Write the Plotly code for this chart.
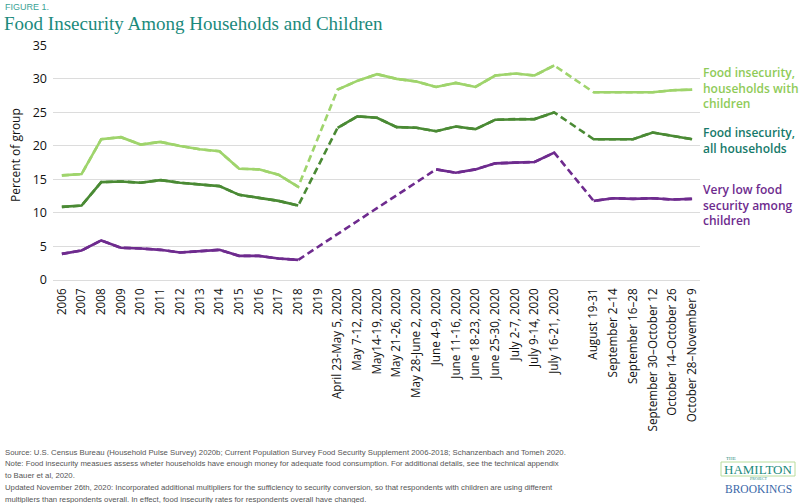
import plotly.graph_objects as go

# ---------------- data ----------------
categories = [
    "2006", "2007", "2008", "2009", "2010", "2011", "2012", "2013", "2014",
    "2015", "2016", "2017", "2018", "2019",
    "April 23-May 5, 2020", "May 7-12, 2020", "May14-19, 2020", "May 21-26, 2020",
    "May 28-June 2, 2020", "June 4-9, 2020", "June 11-16, 2020", "June 18-23, 2020",
    "June 25-30, 2020", "July 2-7, 2020", "July 9-14, 2020", "July 16-21, 2020",
    "",
    "August 19-31", "September 2\u201314", "September 16\u201328",
    "September 30\u2013October 12", "October 14\u2013October 26", "October 28\u2013November 9",
]

hh_children = [15.6, 15.8, 21.0, 21.3, 20.2, 20.6, 20.0, 19.5, 19.2, 16.6, 16.5, 15.7, 13.9, None,
               28.4, 29.7, 30.7, 30.0, 29.6, 28.8, 29.4, 28.8, 30.5, 30.8, 30.5, 32.0,
               None,
               28.0, 28.0, 28.0, 28.0, 28.3, 28.4]

all_hh = [10.9, 11.1, 14.6, 14.7, 14.5, 14.9, 14.5, 14.3, 14.0, 12.7, 12.3, 11.8, 11.1, None,
          22.7, 24.4, 24.2, 22.8, 22.7, 22.2, 22.9, 22.5, 23.9, 24.0, 24.0, 25.0,
          None,
          21.0, 21.0, 21.0, 22.0, 21.5, 21.0]

very_low_children = [3.9, 4.4, 5.9, 4.8, 4.7, 4.5, 4.1, 4.3, 4.5, 3.6, 3.6, 3.2, 3.0, None,
                     None, None, None, None, None, 16.5, 16.0, 16.5, 17.4, 17.5, 17.6, 19.0,
                     None,
                     11.8, 12.2, 12.1, 12.2, 12.0, 12.1]

series = [
    ("Food insecurity,<br>households with<br>children", hh_children, "#9fd46c", "#8fcb58"),
    ("Food insecurity,<br>all households", all_hh, "#4a8a34", "#167a6a"),
    ("Very low food<br>security among<br>children", very_low_children, "#6e2b8e", "#6e2b8e"),
]

# ---------------- layout geometry ----------------
W, H = 800, 503
L, R, T, B = 53, 100, 45, 223
PW, PH = W - L - R, H - T - B


def px(xp):
    return (xp - L) / PW


def py(yp):
    return (H - B - yp) / PH


xs = list(range(len(categories)))

fig = go.Figure()
for name, vals, col, _ in series:
    # dashed connector underneath (bridges the gaps)
    fig.add_trace(go.Scatter(x=xs, y=vals, mode="lines", connectgaps=True,
                             line=dict(color=col, width=2.6, dash="7px,4px"),
                             hoverinfo="skip", showlegend=False))
    # solid segments on top
    fig.add_trace(go.Scatter(x=xs, y=vals, mode="lines", connectgaps=False,
                             line=dict(color=col, width=2.6),
                             name=name.replace("<br>", " "), showlegend=False))

tick_vals = [i for i, c in enumerate(categories) if c]
tick_text = [c for c in categories if c]

fig.update_layout(
    width=W, height=H,
    margin=dict(l=L, r=R, t=T, b=B, pad=0),
    paper_bgcolor="white", plot_bgcolor="white",
    font=dict(family="Open Sans, Noto Sans, sans-serif", color="#222"),
    xaxis=dict(range=[-0.45, 32.4], tickmode="array", tickvals=tick_vals, ticktext=tick_text,
               tickangle=-90, showgrid=False, zeroline=False, showline=False, ticks="",
               ticklabelstandoff=5, tickfont=dict(size=11.7, color="#111")),
    yaxis=dict(range=[0, 35.05], dtick=5, showgrid=True, gridcolor="#dcdcdc", gridwidth=1,
               zeroline=True, zerolinecolor="#dcdcdc", zerolinewidth=1, showline=False,
               ticks="", ticklabelstandoff=5, tickfont=dict(size=12.5, color="#111")),
)

ann = []
# titles
ann.append(dict(text="FIGURE 1.", x=px(3), y=py(7), xref="paper", yref="paper",
                xanchor="left", yanchor="middle", showarrow=False,
                font=dict(family="Liberation Sans, Arial, sans-serif", size=9, color="#3aa396")))
ann.append(dict(text="Food Insecurity Among Households and Children", x=px(2), y=py(23),
                xref="paper", yref="paper", xanchor="left", yanchor="middle", showarrow=False,
                font=dict(family="Liberation Serif, DejaVu Serif, serif", size=19, color="#1b8a7c")))
# y axis title
ann.append(dict(text="Percent of group", x=px(15), y=py(155), xref="paper", yref="paper",
                xanchor="center", yanchor="middle", textangle=-90, showarrow=False,
                font=dict(size=12, color="#111")))

# right side series labels
label_tops = [70, 130, 187]
for (name, vals, col, lcol), ytop in zip(series, label_tops):
    ann.append(dict(text=name, x=px(701), y=py(ytop - 8), xref="paper", yref="paper",
                    xanchor="left", yanchor="top", align="left", showarrow=False,
                    font=dict(size=12, color=lcol, weight=600)))

# footer notes
notes = [
    "Source: U.S. Census Bureau (Household Pulse Survey) 2020b; Current Population Survey Food Security Supplement 2006-2018; Schanzenbach and Tomeh 2020.",
    "Note: Food insecurity measues assess wheter households have enough money for adequate food consumption. For additional details, see the technical appendix",
    "to Bauer et al, 2020.",
    "Updated November 26th, 2020: Incorporated additional multipliers for the sufficiency to security conversion, so that respondents with children are using different",
    "multipliers than respondents overall. In effect, food insecurity rates for respondents overall have changed.",
]
for i, t in enumerate(notes):
    ann.append(dict(text=t, x=px(3), y=py(452 + i * 11.8), xref="paper", yref="paper",
                    xanchor="left", yanchor="middle", showarrow=False,
                    font=dict(family="Liberation Sans, Arial, sans-serif", size=7.75, color="#555")))

# logo
ann.append(dict(text="THE", x=px(731), y=py(458.5), xref="paper", yref="paper",
                xanchor="center", yanchor="middle", showarrow=False,
                font=dict(family="Liberation Serif, serif", size=5, color="#1b8a7c")))
ann.append(dict(text="HAMILTON", x=px(758), y=py(469), xref="paper", yref="paper",
                xanchor="center", yanchor="middle", showarrow=False,
                font=dict(family="Liberation Serif, serif", size=13, color="#1b8a7c")))
ann.append(dict(text="PROJECT", x=px(758), y=py(478), xref="paper", yref="paper",
                xanchor="center", yanchor="middle", showarrow=False,
                font=dict(family="Liberation Serif, serif", size=4, color="#1b8a7c")))
ann.append(dict(text="BROOKINGS", x=px(758), y=py(489), xref="paper", yref="paper",
                xanchor="center", yanchor="middle", showarrow=False,
                font=dict(family="Liberation Serif, serif", size=11.5, color="#3a67a8")))
fig.update_layout(annotations=ann)

fig.add_shape(type="rect", xref="paper", yref="paper",
              x0=px(721), x1=px(795), y0=py(462), y1=py(476),
              line=dict(color="#b9dc9c", width=1), layer="below")

fig.write_html("out.html", config={"displayModeBar": False},
               post_script="document.body.style.margin='0';document.body.style.overflow='hidden';")
